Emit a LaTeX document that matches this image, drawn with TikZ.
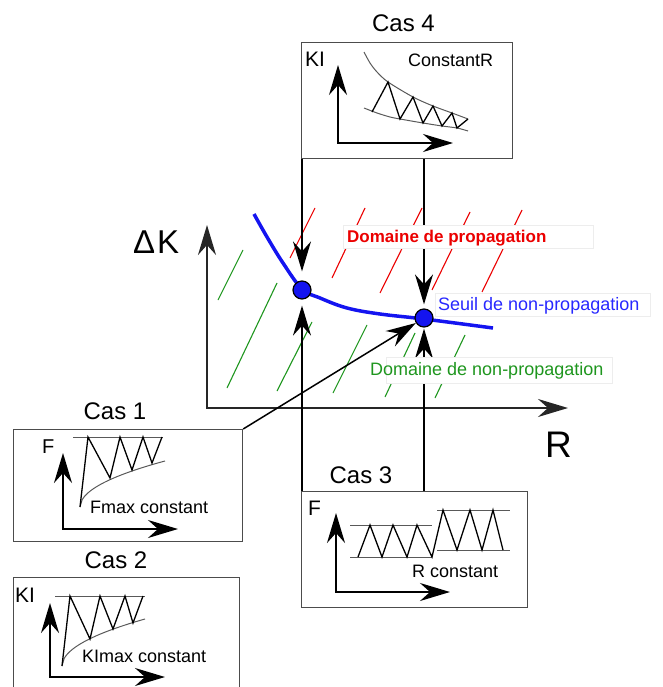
\documentclass[tikz,border=0pt]{standalone}
\usepackage{fontspec}
\setmainfont{Liberation Sans}
\usetikzlibrary{arrows.meta}
\pgfdeclarelayer{bg}
\pgfsetlayers{bg,main}
\definecolor{hgreen}{RGB}{30,150,30}
\definecolor{cblue}{RGB}{20,20,240}
\definecolor{tblue}{RGB}{40,40,255}
\definecolor{tred}{RGB}{235,0,0}
\newcommand\myfs[1]{\fontsize{#1}{#1}\selectfont}
\begin{document}
\begin{tikzpicture}[x=1pt,y=-1pt,
  txt/.style={inner sep=0pt, anchor=base west},
  ctxt/.style={inner sep=0pt, anchor=base},
  casebox/.style={draw=black!70, line width=1.2pt, anchor=north west, inner sep=0pt},
  bigarrow/.style={-{Stealth[length=30pt,width=18pt,inset=10pt]}},
  twoarrow/.style={{Stealth[length=30pt,width=18pt,inset=10pt]}-{Stealth[length=30pt,width=18pt,inset=10pt]}},
  conn/.style={bigarrow, line width=1.5pt, black},
  mainaxis/.style={twoarrow, line width=2.2pt, black!85},
  plotaxes/.style={twoarrow, line width=2pt, black},
  envel/.style={line width=1pt, black!65},
  zig/.style={line width=1.3pt, black, line join=miter},
  hatchr/.style={tred, line width=1.1pt},
  hatchg/.style={hgreen, line width=1.1pt},
  lblbox/.style={draw=black!7, fill=white, line width=0.8pt, anchor=north west, inner sep=0pt},
  dot/.style={circle, fill=cblue, draw=black, line width=1.2pt, minimum size=18pt, inner sep=0pt},
  bluecurve/.style={cblue, line width=3.5pt}
]
\useasboundingbox (0,0) rectangle (662,687);

% case boxes
\node[casebox, minimum width=211pt, minimum height=116pt] (cas4) at (301,42) {};
\node[casebox, minimum width=229pt, minimum height=112pt] (cas1) at (13,429) {};
\node[casebox, minimum width=226pt, minimum height=130pt] (cas2) at (13,577) {};
\node[casebox, minimum width=226pt, minimum height=116pt] (cas3) at (301,491) {};

% titles
\node[ctxt, font={\myfs{24}}] (t4) at (403.5,32) {Cas 4};
\node[ctxt, font={\myfs{24}}] (t1) at (115,419) {Cas 1};
\node[ctxt, font={\myfs{24}}] (t2) at (116,568) {Cas 2};
\node[ctxt, font={\myfs{24}}] (t3) at (361,483) {Cas 3};

% Cas 4 plot
\node[txt, font={\myfs{21}}] (k4) at (305,67) {KI};
\node[txt, font={\myfs{18}}] (c4) at (408,67) {ConstantR};
\draw[plotaxes] (338,65) -- (338,143) -- (453,143);
\draw[envel] plot[smooth] coordinates {(364,52) (370,63) (377,72) (388,82) (413,97) (433,106) (452,113) (468,119)};
\draw[envel] plot[smooth] coordinates {(364,108) (377,113) (390,117) (400,119) (423,123) (442,126) (457,128) (468,131)};
\draw[zig] (372,112) -- (388,82) -- (400,119) -- (413,97) -- (423,123) -- (433,106) -- (442,126) -- (452,113) -- (457,128) -- (468,119);

% Cas 1 plot
\node[txt, font={\myfs{20}}] (f1) at (42,453) {F};
\node[txt, font={\myfs{18}}] (c1) at (90,513) {Fmax constant};
\draw[plotaxes] (63,453) -- (63,529) -- (178,529);
\draw[envel] (73,437) -- (163,437);
\draw[envel] plot[domain=0:85, samples=40] ({80+\x},{507-4.99*sqrt(\x)});
\draw[zig] (80,507) -- (88,437) -- (110,478) -- (120,437) -- (132,470) -- (143,437) -- (152,463) -- (162,437);

% Cas 2 plot
\node[txt, font={\myfs{21}}] (k2) at (15,602) {KI};
\node[txt, font={\myfs{18}}] (c2) at (82,662) {KImax constant};
\draw[plotaxes] (50,603) -- (50,677) -- (165,677);
\draw[envel] (55,596) -- (145,596);
\draw[envel] plot[domain=0:83, samples=40] ({62+\x},{666-5.16*sqrt(\x)});
\draw[zig] (62,666) -- (70,596) -- (90,639) -- (100,596) -- (113,629) -- (125,596) -- (133,623) -- (143,596);

% Cas 3 plot
\node[txt, font={\myfs{21}}] (f3) at (308,515) {F};
\node[txt, font={\myfs{18}}] (c3) at (412,577) {R constant};
\draw[plotaxes] (336,513) -- (336,592) -- (450,592);
\draw[envel] (350,557) -- (432,557);
\draw[envel] (350,525) -- (432,525);
\draw[envel] (437,510) -- (510,510);
\draw[envel] (437,550) -- (510,550);
\draw[zig] (358,557) -- (370,525) -- (382,557) -- (393,525) -- (407,557) -- (417,525) -- (432,557) -- (443,510) -- (457,550) -- (470,510) -- (482,550) -- (493,510) -- (503,550);

% threshold curve and points
\draw[bluecurve] plot[smooth, tension=0.6] coordinates {(254,214) (267,237) (283,263) (302,289) (320,298) (347,308) (380,314) (424,319) (493,328)};
\node[dot] (d1) at (302,290) {};
\node[dot] (d2) at (424,318) {};

\begin{pgfonlayer}{bg}
  % hatching
  \draw[hatchr] (315,208) -- (290,258);
  \draw[hatchr] (365,208) -- (332,278);
  \draw[hatchr] (422,208) -- (380,293);
  \draw[hatchr] (470,212) -- (432,290);
  \draw[hatchr] (522,210) -- (482,292);
  \draw[hatchg] (243,250) -- (218,300);
  \draw[hatchg] (277,283) -- (227,388);
  \draw[hatchg] (312,322) -- (277,391);
  \draw[hatchg] (367,325) -- (333,393);
  \draw[hatchg] (415,333) -- (385,397);
  \draw[hatchg] (465,335) -- (435,398);
  % main axes
  \coordinate (ytop) at (207,225);
  \coordinate (org) at (207,408);
  \coordinate (xend) at (568,408);
  \draw[mainaxis] (ytop) -- (org) -- (xend);
  % connectors
  \draw[conn, shorten >=9pt] (cas4.south -| d1) -- (d1);
  \draw[conn, shorten >=4pt] (cas4.south -| d2) -- (d2);
  \draw[conn, shorten >=6pt] (cas3.north -| d1) -- (d1);
  \draw[conn, shorten >=1pt] (cas3.north -| d2) -- (d2);
  \draw[conn] (cas1.north east) -- (d2);
\end{pgfonlayer}

% axis labels
\node[txt, font={\myfs{33}}] (dk) at (133,253) {Δ\kern2pt K};
\node[txt, font={\myfs{37}}] (rr) at (545,457) {R};

% region labels
\node[lblbox, minimum width=250pt, minimum height=23pt] (bprop) at (343,225) {};
\node[txt, font={\myfs{17}\bfseries}, text=tred] (lprop) at (347,242) {Domaine de propagation};
\node[lblbox, minimum width=215pt, minimum height=23pt] (bseuil) at (435,293) {};
\node[txt, font={\myfs{18}}, text=tblue] (lseuil) at (438,310) {Seuil de non-propagation};
\node[lblbox, minimum width=226pt, minimum height=26pt] (bnon) at (386,357) {};
\node[txt, font={\myfs{18}}, text=hgreen] (lnon) at (370,375) {Domaine de non-propagation};
\end{tikzpicture}
\end{document}
